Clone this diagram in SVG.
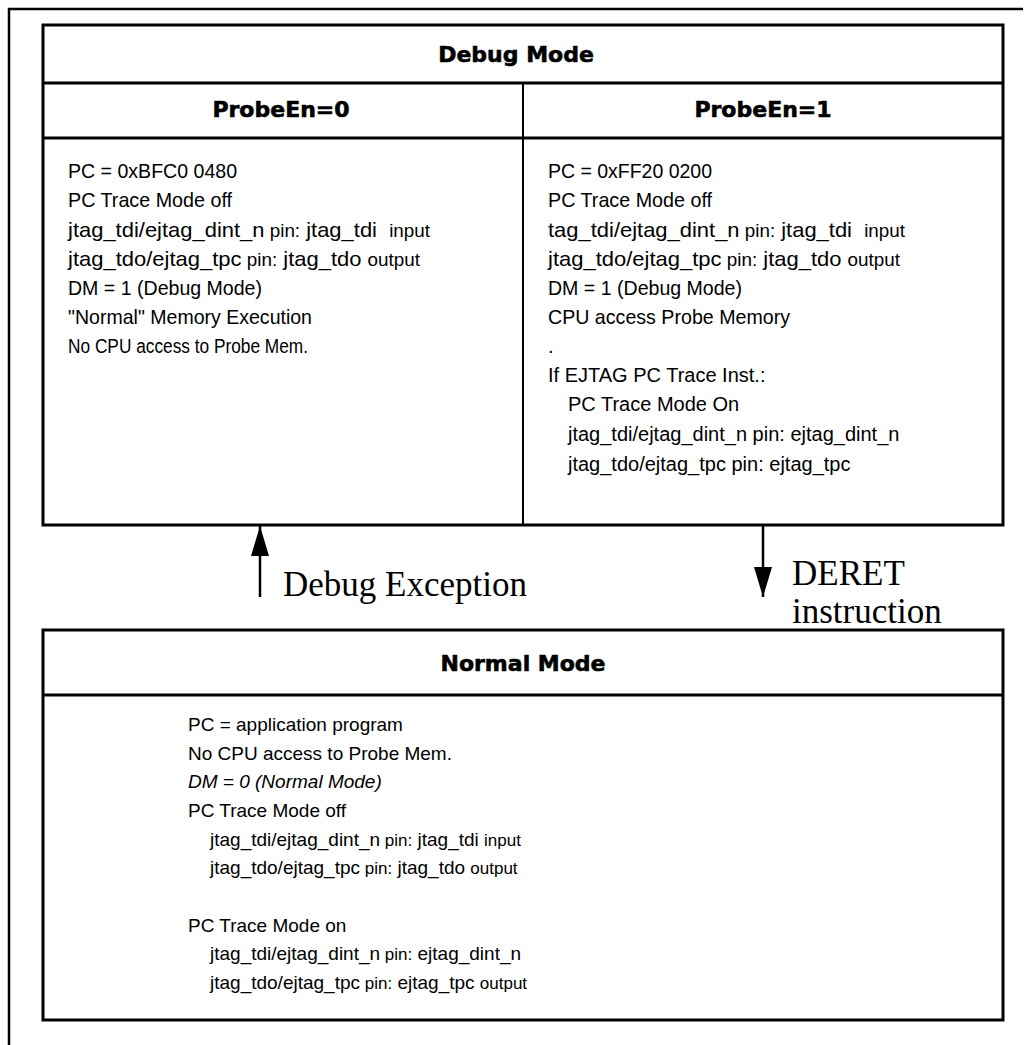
<svg xmlns="http://www.w3.org/2000/svg" width="1031" height="1045" viewBox="0 0 1031 1045">
<style>
  .box { fill: none; stroke: #000; stroke-width: 3; }
  .ln { stroke: #000; stroke-width: 3; fill: none; }
  .hd { font-family: "DejaVu Sans", "Liberation Sans", sans-serif; font-weight: bold; font-size: 22px; fill: #000; stroke: #000; stroke-width: 0.6; text-anchor: middle; }
  .tx { font-family: "Liberation Sans", Arial, sans-serif; font-size: 21px; fill: #000; white-space: pre; }
  .tx2 { font-family: "Liberation Sans", Arial, sans-serif; font-size: 20px; fill: #000; white-space: pre; }
  .tx3 { font-family: "Liberation Sans", Arial, sans-serif; font-size: 19px; fill: #000; white-space: pre; }
  .sm { font-size: 18px; }
  .sm3 { font-size: 17px; }
  .lab { font-family: "Liberation Serif", "Times New Roman", serif; font-size: 35px; fill: #000; }
  .arr { stroke: #000; stroke-width: 2.5; fill: none; }
</style>
<defs>
  <marker id="ah" markerWidth="30" markerHeight="18" refX="30" refY="9" orient="auto" markerUnits="userSpaceOnUse" viewBox="0 0 30 18">
    <path d="M0,0 L30,9 L0,18 Z" fill="#000"/>
  </marker>
</defs>
<g id="frame">
  <polyline class="ln" points="9,1045 9,9 1023,9" style="stroke-width:2.5"/>
</g>
<g id="debug-mode">
  <rect class="box" x="43" y="25" width="960" height="500"/>
  <line class="ln" x1="43" y1="83" x2="1003" y2="83"/>
  <line class="ln" x1="43" y1="138" x2="1003" y2="138"/>
  <line class="ln" x1="523" y1="83" x2="523" y2="525" style="stroke-width:2"/>
  <text class="hd" x="516" y="62">Debug Mode</text>
</g>
<g id="probeen0">
  <text class="hd" x="281" y="117">ProbeEn=0</text>
  <text class="tx" x="68" y="178" textLength="169" lengthAdjust="spacingAndGlyphs">PC = 0xBFC0 0480</text>
  <text class="tx" x="68" y="207" textLength="164" lengthAdjust="spacingAndGlyphs">PC Trace Mode off</text>
  <text class="tx" x="68" y="237" textLength="362" lengthAdjust="spacingAndGlyphs">jtag_tdi/ejtag_dint_n<tspan class="sm"> pin:</tspan> jtag_tdi  <tspan class="sm">input</tspan></text>
  <text class="tx" x="68" y="266" textLength="352" lengthAdjust="spacingAndGlyphs">jtag_tdo/ejtag_tpc<tspan class="sm"> pin:</tspan> jtag_tdo <tspan class="sm">output</tspan></text>
  <text class="tx" x="68" y="295" textLength="194" lengthAdjust="spacingAndGlyphs">DM = 1 (Debug Mode)</text>
  <text class="tx" x="68" y="324" textLength="244" lengthAdjust="spacingAndGlyphs">"Normal" Memory Execution</text>
  <text class="tx" x="68" y="353" style="font-size:19.5px" textLength="240" lengthAdjust="spacingAndGlyphs">No CPU access to Probe Mem.</text>
</g>
<g id="probeen1">
  <text class="hd" x="763" y="117">ProbeEn=1</text>
  <text class="tx" x="548" y="178" textLength="164" lengthAdjust="spacingAndGlyphs">PC = 0xFF20 0200</text>
  <text class="tx" x="548" y="207" textLength="164" lengthAdjust="spacingAndGlyphs">PC Trace Mode off</text>
  <text class="tx" x="548" y="237" textLength="357" lengthAdjust="spacingAndGlyphs">tag_tdi/ejtag_dint_n<tspan class="sm"> pin:</tspan> jtag_tdi  <tspan class="sm">input</tspan></text>
  <text class="tx" x="548" y="266" textLength="352" lengthAdjust="spacingAndGlyphs">jtag_tdo/ejtag_tpc<tspan class="sm"> pin:</tspan> jtag_tdo <tspan class="sm">output</tspan></text>
  <text class="tx" x="548" y="295" textLength="194" lengthAdjust="spacingAndGlyphs">DM = 1 (Debug Mode)</text>
  <text class="tx" x="548" y="324" textLength="242" lengthAdjust="spacingAndGlyphs">CPU access Probe Memory</text>
  <text class="tx2" x="548" y="353">.</text>
  <text class="tx2" x="548" y="382">If EJTAG PC Trace Inst.:</text>
  <text class="tx2" x="568" y="411">PC Trace Mode On</text>
  <text class="tx2" x="568" y="441">jtag_tdi/ejtag_dint_n pin: ejtag_dint_n</text>
  <text class="tx2" x="568" y="471">jtag_tdo/ejtag_tpc pin: ejtag_tpc</text>
</g>
<g id="normal-mode">
  <rect class="box" x="43" y="630" width="960" height="390"/>
  <line class="ln" x1="43" y1="695" x2="1003" y2="695"/>
  <text class="hd" x="523" y="671">Normal Mode</text>
  <text class="tx3" x="188" y="731">PC = application program</text>
  <text class="tx3" x="188" y="760">No CPU access to Probe Mem.</text>
  <text class="tx3" x="188" y="788" font-style="italic">DM = 0 (Normal Mode)</text>
  <text class="tx3" x="188" y="817">PC Trace Mode off</text>
  <text class="tx3" x="210" y="846">jtag_tdi/ejtag_dint_n<tspan class="sm3"> pin:</tspan> jtag_tdi <tspan class="sm3">input</tspan></text>
  <text class="tx3" x="210" y="874">jtag_tdo/ejtag_tpc<tspan class="sm3"> pin:</tspan> jtag_tdo <tspan class="sm3">output</tspan></text>
  <text class="tx3" x="188" y="932">PC Trace Mode on</text>
  <text class="tx3" x="210" y="960">jtag_tdi/ejtag_dint_n<tspan class="sm3"> pin:</tspan> ejtag_dint_n</text>
  <text class="tx3" x="210" y="989">jtag_tdo/ejtag_tpc<tspan class="sm3"> pin:</tspan> ejtag_tpc <tspan class="sm3">output</tspan></text>
</g>
<g id="connectors">
  <line class="arr" x1="260" y1="597" x2="260" y2="526" marker-end="url(#ah)"/>
  <line class="arr" x1="763" y1="525" x2="763" y2="597" marker-end="url(#ah)"/>
</g>
<g id="labels">
  <text class="lab" x="283" y="596">Debug Exception</text>
  <text class="lab" x="792" y="585">DERET</text>
  <text class="lab" x="792" y="623">instruction</text>
</g>
</svg>
